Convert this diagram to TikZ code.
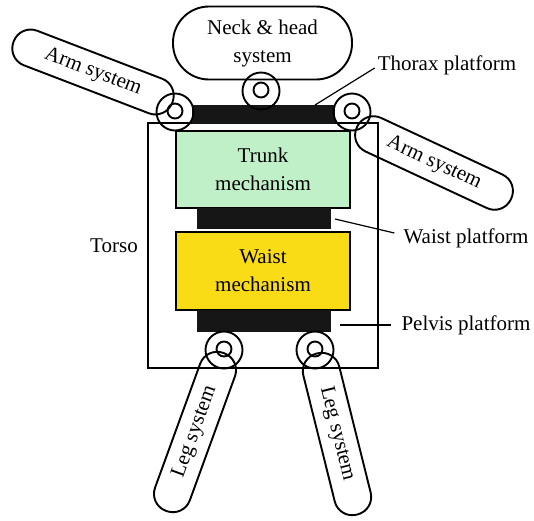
\documentclass[tikz,border=0pt]{standalone}
\usepackage{fontspec}
\setmainfont{Liberation Serif}
\usetikzlibrary{calc}
\definecolor{trunkgreen}{RGB}{192,240,200}
\definecolor{waistyellow}{RGB}{250,220,22}
\definecolor{platblack}{RGB}{22,22,22}
\tikzset{
  lw/.style={line width=1.9pt},
  stadium/.style={lw, draw, rounded corners=18pt, minimum height=37pt, inner sep=0pt, align=center},
  mechbox/.style={lw, draw, inner sep=0pt, align=center},
  platbar/.style={fill=platblack, draw=none},
  jointout/.style={lw, draw, circle, minimum size=37pt, inner sep=0pt},
  jointin/.style={lw, draw, circle, minimum size=15pt, inner sep=0pt},
  lbl/.style={inner sep=0pt, align=center},
  leader/.style={line width=1.2pt}
}
\begin{document}
\begin{tikzpicture}[x=1pt, y=-1pt, font=\fontsize{21}{28}\selectfont]
\useasboundingbox (0,0) rectangle (534,520);
% torso frame
\node[lw, draw, minimum width=230pt, minimum height=245pt, inner sep=0pt] (torso) at (263,245.5) {};
% mechanisms
\node[mechbox, fill=trunkgreen, minimum width=174pt, minimum height=77pt] (trunk) at (263,169.5) {Trunk\\mechanism};
\node[mechbox, fill=waistyellow, minimum width=174pt, minimum height=78pt] (waist) at (263,271) {Waist\\mechanism};
% platforms
\node[platbar, minimum width=143pt, minimum height=19pt, inner sep=0pt] (thorax) at (263.5,114) {};
\node[platbar, minimum width=134pt, minimum height=21pt, inner sep=0pt] (waistp) at (264,218.5) {};
\node[platbar, minimum width=134pt, minimum height=22pt, inner sep=0pt] (pelvis) at (264,321) {};
% neck and head
\node[stadium, rounded corners=36pt, minimum width=179pt, minimum height=73pt] (neck) at (262.5,43) {Neck \& head\\system};
% arms and legs
\node[stadium, minimum width=170pt, rotate=-21] (larm) at (93,72) {Arm system};
\node[stadium, minimum width=170pt, rotate=-25] (rarm) at (434,163) {Arm system};
\node[stadium, minimum width=168pt, rotate=70] (lleg) at (195,432) {Leg system};
\node[stadium, minimum width=166pt, rotate=-76] (rleg) at (337,434) {Leg system};
% joints
\foreach \n/\x/\y in {head/261/91, lsh/175/112, rsh/352/112, lhip/224/350, rhip/315/350}{
  \node[jointout] (\n o) at (\x,\y) {};
  \node[jointin] (\n i) at (\x,\y-1) {};
}
% labels
\node[lbl] (thoraxlbl) at (447,65) {Thorax platform};
\node[lbl] (waistlbl) at (466,238) {Waist platform};
\node[lbl] (pelvislbl) at (466,325) {Pelvis platform};
\node[lbl] (torsolbl) at (114,246) {Torso};
% leaders
\coordinate (thoraxpt) at (315,105);
\coordinate (waistpt) at (335,219);
\coordinate (pelvispt) at (340,325);
\draw[leader] (thoraxpt) -- ($(thoraxlbl.west)+(-3,3)$);
\draw[leader] (waistpt) -- ($(waistlbl.west)+(-9,-5)$);
\draw[leader] (pelvispt) -- ($(pelvislbl.west)+(-10,0)$);
\end{tikzpicture}
\end{document}
